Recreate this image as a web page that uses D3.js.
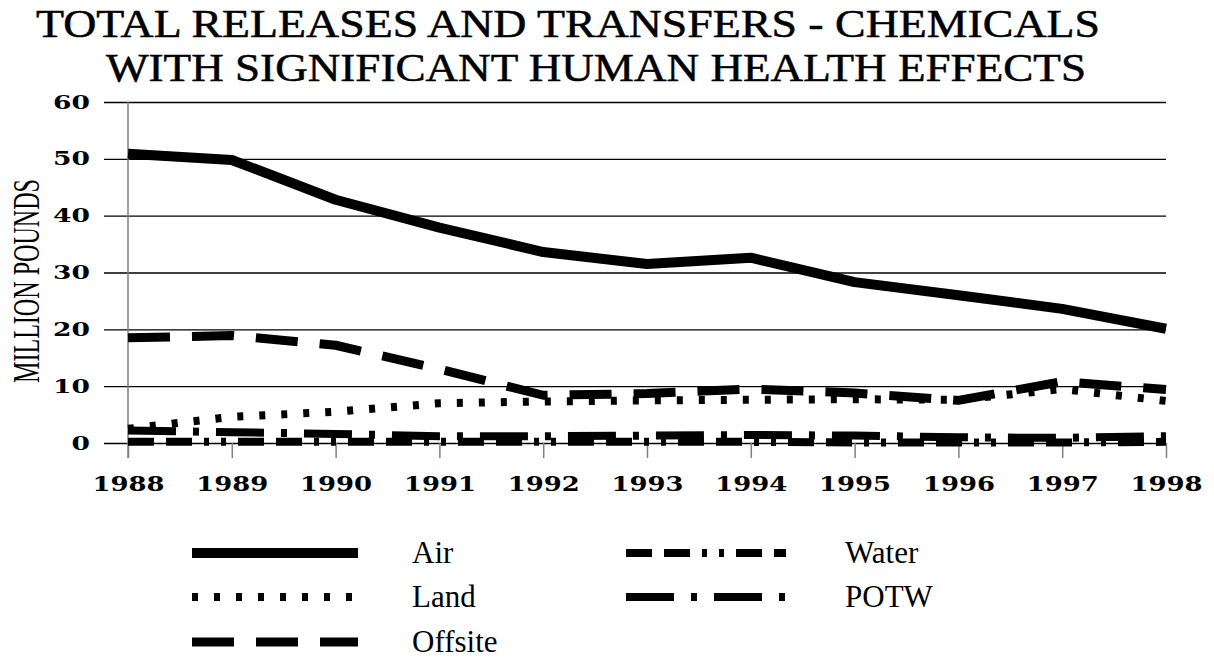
<!DOCTYPE html>
<html>
<head>
<meta charset="utf-8">
<script src="https://cdn.jsdelivr.net/npm/d3@7/dist/d3.min.js"></script>
<style>
  html, body { margin: 0; padding: 0; background: #fff; }
  svg { display: block; }
  .serif { font-family: 'Liberation Serif', 'Times New Roman', serif; }
  .num { font-family: 'DejaVu Serif', serif; font-weight: bold; }
</style>
</head>
<body>
<svg id="chart" width="1214" height="658"></svg>
<script>
const years = [1988, 1989, 1990, 1991, 1992, 1993, 1994, 1995, 1996, 1997, 1998];
const air     = [50.9, 49.8, 42.8, 37.9, 33.6, 31.5, 32.6, 28.3, 26.0, 23.6, 20.1];
const land    = [2.5, 4.6, 5.5, 7.0, 7.3, 7.5, 7.6, 7.7, 7.6, 9.5, 7.4];
const offsite = [18.5, 18.9, 17.2, 13.0, 8.4, 8.7, 9.5, 8.8, 7.5, 10.8, 9.4];
const water   = [0.2, 0.2, 0.2, 0.2, 0.2, 0.2, 0.2, 0.1, 0.1, 0.1, 0.2];
const potw    = [2.2, 1.9, 1.6, 1.2, 1.2, 1.3, 1.4, 1.3, 1.0, 0.9, 1.2];
const yTicks  = [0, 10, 20, 30, 40, 50, 60];
const seriesNames = ["Air", "Land", "Offsite", "Water", "POTW"];
const titleLines = ["TOTAL RELEASES AND TRANSFERS - CHEMICALS", "WITH SIGNIFICANT HUMAN HEALTH EFFECTS"];
const yLabel = "MILLION POUNDS";

const svg = d3.select("#chart");
const x = d3.scaleLinear().domain([1988, 1998]).range([128, 1166]);
const y = d3.scaleLinear().domain([0, 60]).range([443, 102]);

// Title
const titleSpec = [{x0: 36, len: 1064, base: 37}, {x0: 106, len: 980, base: 81}];
svg.selectAll("text.title").data(titleLines).join("text")
  .attr("class", "title serif")
  .attr("x", (d, i) => titleSpec[i].x0)
  .attr("y", (d, i) => titleSpec[i].base)
  .attr("textLength", (d, i) => titleSpec[i].len)
  .attr("lengthAdjust", "spacingAndGlyphs")
  .attr("font-size", 39)
  .attr("stroke", "#000")
  .attr("stroke-width", 0.5)
  .attr("fill", "#000")
  .text(d => d);

// Y axis (gridlines + labels)
const yAxis = d3.axisLeft(y).tickValues(yTicks).tickSize(-(1166 - 104)).tickPadding(14).tickFormat(d3.format("d"));
const gy = svg.append("g").attr("transform", "translate(104,0)").call(yAxis);
gy.attr("font-family", null);
gy.select(".domain").remove();
gy.selectAll(".tick line").attr("stroke", "#000").attr("stroke-width", 1.3);
gy.selectAll(".tick text")
  .attr("class", "num")
  .attr("font-size", 19)
  .attr("fill", "#000")
  .attr("textLength", d => String(d).length * 18.5)
  .attr("lengthAdjust", "spacingAndGlyphs");

// Vertical axis line
svg.append("line")
  .attr("x1", x(1988)).attr("x2", x(1988))
  .attr("y1", y(60)).attr("y2", 458)
  .attr("stroke", "#808080").attr("stroke-width", 1.5);

// X axis
const xAxis = d3.axisBottom(x).tickValues(years).tickSize(15).tickFormat(d3.format("d"));
const gx = svg.append("g").attr("transform", `translate(0,${y(0)})`).call(xAxis);
gx.attr("font-family", null);
gx.select(".domain").remove();
gx.selectAll(".tick line").attr("stroke", "#808080").attr("stroke-width", 1.5);
gx.selectAll(".tick text")
  .attr("class", "num")
  .attr("y", 48).attr("dy", 0)
  .attr("font-size", 21)
  .attr("fill", "#000")
  .attr("textLength", 72)
  .attr("lengthAdjust", "spacingAndGlyphs");

// Y label
svg.append("text")
  .attr("class", "serif")
  .attr("transform", "translate(39,281) rotate(-90)")
  .attr("text-anchor", "middle")
  .attr("font-size", 38)
  .attr("textLength", 204)
  .attr("lengthAdjust", "spacingAndGlyphs")
  .attr("fill", "#000")
  .text(yLabel);

// Series
const styles = {
  "Air":     {w: 10, dash: null},
  "Land":    {w: 8,  dash: "6,16"},
  "Offsite": {w: 9,  dash: "42,22"},
  "Water":   {w: 8,  dash: "26,12,26,12,5,12,5,12"},
  "POTW":    {w: 8,  dash: "48,17,6,17"}
};
const dataBy = {"Air": air, "Land": land, "Offsite": offsite, "Water": water, "POTW": potw};

const line = d3.line()
  .x((d, i) => x(years[i]))
  .y(d => y(d))
  .curve(d3.curveLinear);

const drawOrder = ["Water", "POTW", "Land", "Offsite", "Air"];
svg.append("g").selectAll("path").data(drawOrder).join("path")
  .attr("d", n => line(dataBy[n]))
  .attr("fill", "none")
  .attr("stroke", "#000")
  .attr("stroke-width", n => styles[n].w)
  .attr("stroke-dasharray", n => styles[n].dash)
  .attr("stroke-linecap", "butt")
  .attr("stroke-linejoin", "round");

// Legend
const legPos = {
  "Air":     {x1: 192, x2: 358, y: 553, tx: 412},
  "Land":    {x1: 192, x2: 358, y: 597, tx: 412},
  "Offsite": {x1: 192, x2: 358, y: 642, tx: 412},
  "Water":   {x1: 626, x2: 786, y: 553, tx: 845},
  "POTW":    {x1: 626, x2: 786, y: 597, tx: 845}
};
const lg = svg.append("g").selectAll("g").data(seriesNames).join("g");
lg.append("line")
  .attr("x1", n => legPos[n].x1).attr("x2", n => legPos[n].x2)
  .attr("y1", n => legPos[n].y).attr("y2", n => legPos[n].y)
  .attr("stroke", "#000")
  .attr("stroke-width", n => styles[n].w)
  .attr("stroke-dasharray", n => styles[n].dash);
lg.append("text")
  .attr("class", "serif")
  .attr("x", n => legPos[n].tx)
  .attr("y", n => legPos[n].y + 10)
  .attr("font-size", 31)
  .attr("fill", "#000")
  .text(n => n);
</script>
</body>
</html>
